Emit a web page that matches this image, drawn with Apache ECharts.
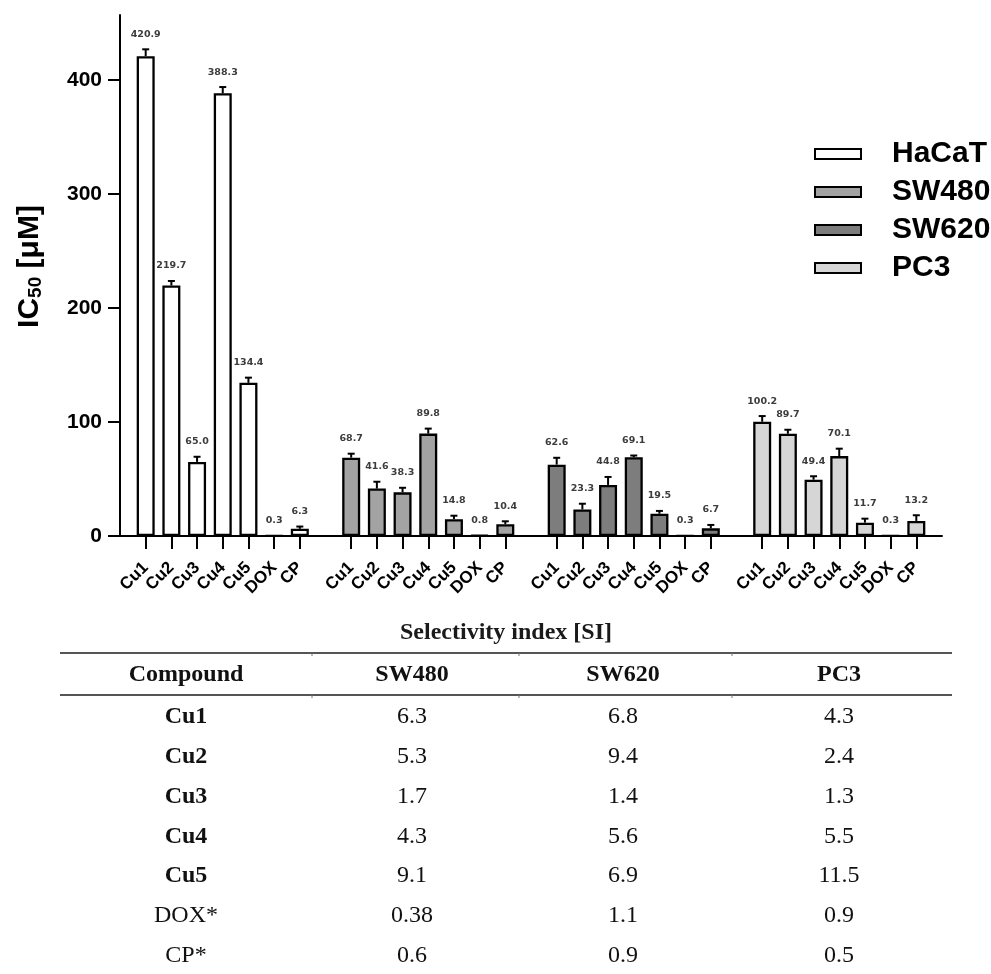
<!DOCTYPE html>
<html>
<head>
<meta charset="utf-8">
<script src="https://cdn.jsdelivr.net/npm/echarts@6/dist/echarts.min.js"></script>
<style>
html,body{margin:0;padding:0;background:#fff;}
#chart{width:991px;height:974px;}
</style>
</head>
<body>
<div id="chart"></div>
<script>
// ---- data ----
const compounds = ['Cu1','Cu2','Cu3','Cu4','Cu5','DOX','CP'];
const cellLines = ['HaCaT','SW480','SW620','PC3'];
const hacatIC50 = [420.9, 219.7, 65.0, 388.3, 134.4, 0.3, 6.3];
const sw480IC50 = [68.7, 41.6, 38.3, 89.8, 14.8, 0.8, 10.4];
const sw620IC50 = [62.6, 23.3, 44.8, 69.1, 19.5, 0.3, 6.7];
const pc3IC50   = [100.2, 89.7, 49.4, 70.1, 11.7, 0.3, 13.2];
const hacatErr = [6, 4, 4.5, 5.5, 4.5, 0, 2];
const sw480Err = [3.5, 6, 4, 4.4, 3, 0, 2.5];
const sw620Err = [6, 5, 7, 1.5, 2.5, 0, 3];
const pc3Err   = [5, 3.5, 3, 6.5, 3.5, 0, 5];
const yTicks = [0, 100, 200, 300, 400];

const siTitle = 'Selectivity index [SI]';
const siHeader = ['Compound','SW480','SW620','PC3'];
const siCompounds = ['Cu1','Cu2','Cu3','Cu4','Cu5','DOX*','CP*'];
const siSW480 = ['6.3','5.3','1.7','4.3','9.1','0.38','0.6'];
const siSW620 = ['6.8','9.4','1.4','5.6','6.9','1.1','0.9'];
const siPC3   = ['4.3','2.4','1.3','5.5','11.5','0.9','0.5'];

// ---- build ----
const values = [hacatIC50, sw480IC50, sw620IC50, pc3IC50];
const errs = [hacatErr, sw480Err, sw620Err, pc3Err];
const colors = ['#ffffff', '#a3a3a3', '#7d7d7d', '#d6d6d6'];

const categories = [''];
cellLines.forEach(() => { compounds.forEach(c => categories.push(c)); categories.push(''); });

const barSeries = cellLines.map((name, g) => {
  const data = categories.map(() => null);
  values[g].forEach((v, j) => { data[1 + 8 * g + j] = v; });
  return {
    name, type: 'bar', data, barWidth: 18, barGap: '-100%',
    itemStyle: { color: colors[g], borderColor: '#000', borderWidth: 2.3 },
    emphasis: { disabled: true }
  };
});

const errData = [];
values.forEach((arr, g) => arr.forEach((v, j) => errData.push([1 + 8 * g + j, v, errs[g][j]])));

const errSeries = {
  name: 'err', type: 'custom', data: errData, z: 10, silent: true,
  renderItem(params, api) {
    const x = api.value(0), v = api.value(1), e = api.value(2);
    const base = api.coord([x, v]);
    const top = api.coord([x, v + e]);
    const children = [];
    if (e > 0) {
      children.push({ type: 'line', shape: { x1: base[0], y1: base[1], x2: top[0], y2: top[1] }, style: { stroke: '#000', lineWidth: 2 } });
      children.push({ type: 'line', shape: { x1: top[0] - 3.5, y1: top[1], x2: top[0] + 3.5, y2: top[1] }, style: { stroke: '#000', lineWidth: 2 } });
    }
    children.push({ type: 'text', style: { text: v.toFixed(1), x: top[0], y: top[1] - 15, align: 'center', verticalAlign: 'middle', fontSize: 9.5, fontWeight: 'bold', fontFamily: 'DejaVu Sans', fill: '#3c3c3c' } });
    return { type: 'group', children };
  }
};

// table graphics
const graphics = [];
const fontSerif = 'Liberation Serif';
const colX = [186, 412, 623, 839];
graphics.push({ type: 'text', style: { text: siTitle, x: 506, y: 633, align: 'center', verticalAlign: 'middle', fontSize: 24, fontWeight: 'bold', fontFamily: fontSerif, fill: '#1a1a1a' } });
[653, 695].forEach(y => {
  graphics.push({ type: 'line', shape: { x1: 60, y1: y, x2: 952, y2: y }, style: { stroke: '#555', lineWidth: 2 } });
  [312, 519, 732].forEach(x => graphics.push({ type: 'line', shape: { x1: x, y1: y, x2: x, y2: y + 3 }, style: { stroke: '#777', lineWidth: 1 } }));
});
siHeader.forEach((h, i) => graphics.push({ type: 'text', style: { text: h, x: colX[i], y: 675, align: 'center', verticalAlign: 'middle', fontSize: 24, fontWeight: 'bold', fontFamily: fontSerif, fill: '#111' } }));
siCompounds.forEach((c, r) => {
  const y = 717 + r * 39.8;
  const row = [c, siSW480[r], siSW620[r], siPC3[r]];
  row.forEach((t, i) => graphics.push({ type: 'text', style: { text: t, x: colX[i], y, align: 'center', verticalAlign: 'middle', fontSize: 24, fontWeight: (i === 0 && r < 5) ? 'bold' : 'normal', fontFamily: fontSerif, fill: '#111' } }));
});

const chart = echarts.init(document.getElementById('chart'));
chart.setOption({
  animation: false,
  backgroundColor: '#fff',
  grid: { left: 120, right: 49, top: 15, bottom: 438, outerBoundsMode: 'none' },
  legend: {
    data: cellLines, orient: 'vertical', left: 809, top: 134,
    icon: 'rect', itemWidth: 46, itemHeight: 10, itemGap: 8,
    selectedMode: false,
    textStyle: { fontFamily: 'Liberation Sans', fontWeight: 'bold', fontSize: 30, lineHeight: 28, color: '#000', padding: [0, 0, 0, 26] }
  },
  xAxis: {
    type: 'category', data: categories, boundaryGap: false,
    axisLine: { lineStyle: { color: '#000', width: 2 } },
    axisTick: { show: true, length: 13, interval: (i, v) => v !== '', lineStyle: { color: '#000', width: 2 } },
    axisLabel: { interval: 0, rotate: 45, margin: 29, fontFamily: 'Liberation Sans', fontWeight: 'bold', fontSize: 17, color: '#000' },
    splitLine: { show: false }
  },
  yAxis: {
    type: 'value', min: 0, max: 457, interval: 100,
    name: '{a|IC}{b|50}{a| [μM]}', nameLocation: 'middle', nameRotate: 90, nameGap: 75,
    nameTextStyle: { padding: [0, 0, 0, 18], rich: {
      a: { fontFamily: 'Liberation Sans', fontWeight: 'bold', fontSize: 30, color: '#000' },
      b: { fontFamily: 'Liberation Sans', fontWeight: 'bold', fontSize: 19, color: '#000', padding: [12, 0, 0, 0] }
    } },
    axisLine: { show: true, lineStyle: { color: '#000', width: 2 } },
    axisTick: { show: true, length: 12, customValues: yTicks, lineStyle: { color: '#000', width: 2 } },
    axisLabel: { customValues: yTicks, margin: 18, fontFamily: 'Liberation Sans', fontWeight: 'bold', fontSize: 21, color: '#000' },
    splitLine: { show: false }
  },
  graphic: graphics,
  series: [...barSeries, errSeries]
});
</script>
</body>
</html>
